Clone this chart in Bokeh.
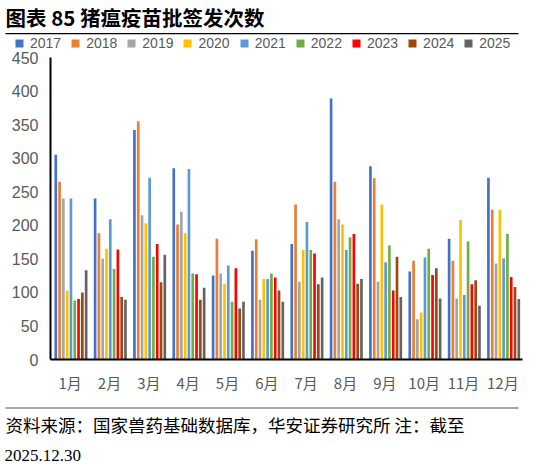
from bokeh.plotting import figure
from bokeh.layouts import column
from bokeh.models import (FactorRange, Range1d, Legend, LegendItem, Label,
                          BoxAnnotation, ColumnDataSource, FixedTicker, Plot)
from bokeh.transform import dodge
from bokeh.embed import file_html
from bokeh.resources import INLINE

months = ["1月", "2月", "3月", "4月", "5月", "6月", "7月", "8月", "9月", "10月", "11月", "12月"]
years = ["2017", "2018", "2019", "2020", "2021", "2022", "2023", "2024", "2025"]

v2017 = [305, 240, 342, 285, 125, 162, 172, 389, 288, 131, 180, 271]
v2018 = [265, 188, 355, 201, 180, 179, 231, 265, 270, 147, 147, 223]
v2019 = [240, 150, 215, 220, 128, 89, 116, 209, 116, 60, 91, 143]
v2020 = [103, 165, 203, 188, 113, 120, 163, 201, 231, 70, 208, 223]
v2021 = [240, 209, 271, 284, 140, 120, 205, 163, 145, 152, 96, 151]
v2022 = [88, 135, 153, 128, 86, 128, 163, 182, 170, 165, 176, 187]
v2023 = [90, 164, 172, 127, 136, 122, 158, 187, 103, 126, 112, 123]
v2024 = [100, 93, 115, 89, 76, 103, 112, 113, 153, 136, 118, 108]
v2025 = [133, 89, 156, 107, 86, 86, 122, 120, 93, 91, 80, 90]

series = [v2017, v2018, v2019, v2020, v2021, v2022, v2023, v2024, v2025]
colors = ["#4472C4", "#ED7D31", "#A5A5A5", "#FFC000", "#5B9BD5",
          "#70AD47", "#FF0000", "#9E480E", "#636363"]

title_text = "图表 85 猪瘟疫苗批签发次数"
source_text = "资料来源：国家兽药基础数据库，华安证券研究所 注：截至"
date_text = "2025.12.30"

W = 541
TH, LH, MH, FH = 32, 19, 349, 67
gray = "#595959"
lab_font = "Liberation Sans"
cjk = "Noto Sans CJK SC"
HAS_FA = "frame_align" in Plot.properties()


def blank(h):
    f = figure(width=W, height=h, x_range=Range1d(0, W), y_range=Range1d(h, 0),
               output_backend="svg", toolbar_location=None, min_border=0,
               min_border_left=0, min_border_right=0, min_border_top=0,
               min_border_bottom=0,
               x_axis_location=None, y_axis_location=None, title=None)
    f.outline_line_color = None
    f.grid.visible = False
    f.background_fill_color = "white"
    f.border_fill_color = "white"
    if HAS_FA:
        f.frame_align = False
    return f


# ---------- title ----------
ttl = blank(TH)
ttl.add_layout(Label(x=5, y=16, text=title_text, text_font=cjk, text_font_style="bold",
                     text_font_size="20.5px", text_color="black", text_baseline="middle"))

# ---------- rule + legend strip ----------
leg = blank(LH)
leg.add_layout(BoxAnnotation(left=5, right=518, top=0.5, bottom=1.8,
                             fill_color="black", fill_alpha=1, line_color=None))
dummies = []
for y, c in zip(years, colors):
    dummies.append(leg.vbar(x=[0], top=[0], bottom=[0], width=0,
                            fill_color=c, line_color=None))
legend = Legend(items=[LegendItem(label=y, renderers=[r]) for y, r in zip(years, dummies)],
                orientation="horizontal", location=(14, 0),
                glyph_width=10, glyph_height=10, label_standoff=6, spacing=9,
                padding=0, margin=0, border_line_color=None,
                background_fill_color=None, background_fill_alpha=0,
                label_text_font=lab_font, label_text_font_size="14px",
                label_text_color=gray, label_height=10, label_text_line_height=1.0)
leg.add_layout(legend, "center")

# ---------- main chart ----------
data = {"month": months}
for y, s in zip(years, series):
    data["y" + y] = s
src = ColumnDataSource(data)

p = figure(width=W, height=MH, x_range=FactorRange(*months, range_padding=0),
           y_range=Range1d(0, 450), output_backend="svg", toolbar_location=None,
           min_border_left=50, min_border_right=19, min_border_top=6,
           min_border_bottom=41, title=None)
p.outline_line_color = None
p.grid.visible = False
p.background_fill_color = "white"
p.border_fill_color = "white"
if HAS_FA:
    p.frame_align = False

for i, (y, c) in enumerate(zip(years, colors)):
    p.vbar(x=dodge("month", 0.02 + (i - 4) * 0.0965, range=p.x_range), top="y" + y,
           width=0.068, source=src, fill_color=c, line_color=None)

p.yaxis.ticker = FixedTicker(ticks=list(range(0, 451, 50)))
for ax in (p.xaxis, p.yaxis):
    ax.axis_line_color = "black"
    ax.axis_line_width = 2
    ax.major_tick_line_color = None
    ax.minor_tick_line_color = None
    ax.major_tick_out = 0
    ax.major_tick_in = 0
    ax.major_label_text_color = gray
p.yaxis.major_label_text_font = lab_font
p.yaxis.major_label_text_font_size = "16px"
p.yaxis.major_label_standoff = 12
p.xaxis.major_label_text_font = cjk
p.xaxis.major_label_text_font_size = "15px"
p.xaxis.major_label_standoff = 12

# ---------- footer ----------
ftr = blank(FH)
ftr.add_layout(BoxAnnotation(left=5, right=518, top=7, bottom=8,
                             fill_color="#555555", fill_alpha=1, line_color=None))
ftr.add_layout(Label(x=5, y=24, text=source_text, text_font=cjk,
                     text_font_size="17.5px", text_color="black", text_baseline="middle"))
ftr.add_layout(Label(x=4, y=55, text=date_text, text_font="Liberation Serif",
                     text_font_size="17px", text_color="black", text_baseline="middle"))

layout = column(ttl, leg, p, ftr, spacing=0)
open("out.html", "w").write(file_html(layout, INLINE))
